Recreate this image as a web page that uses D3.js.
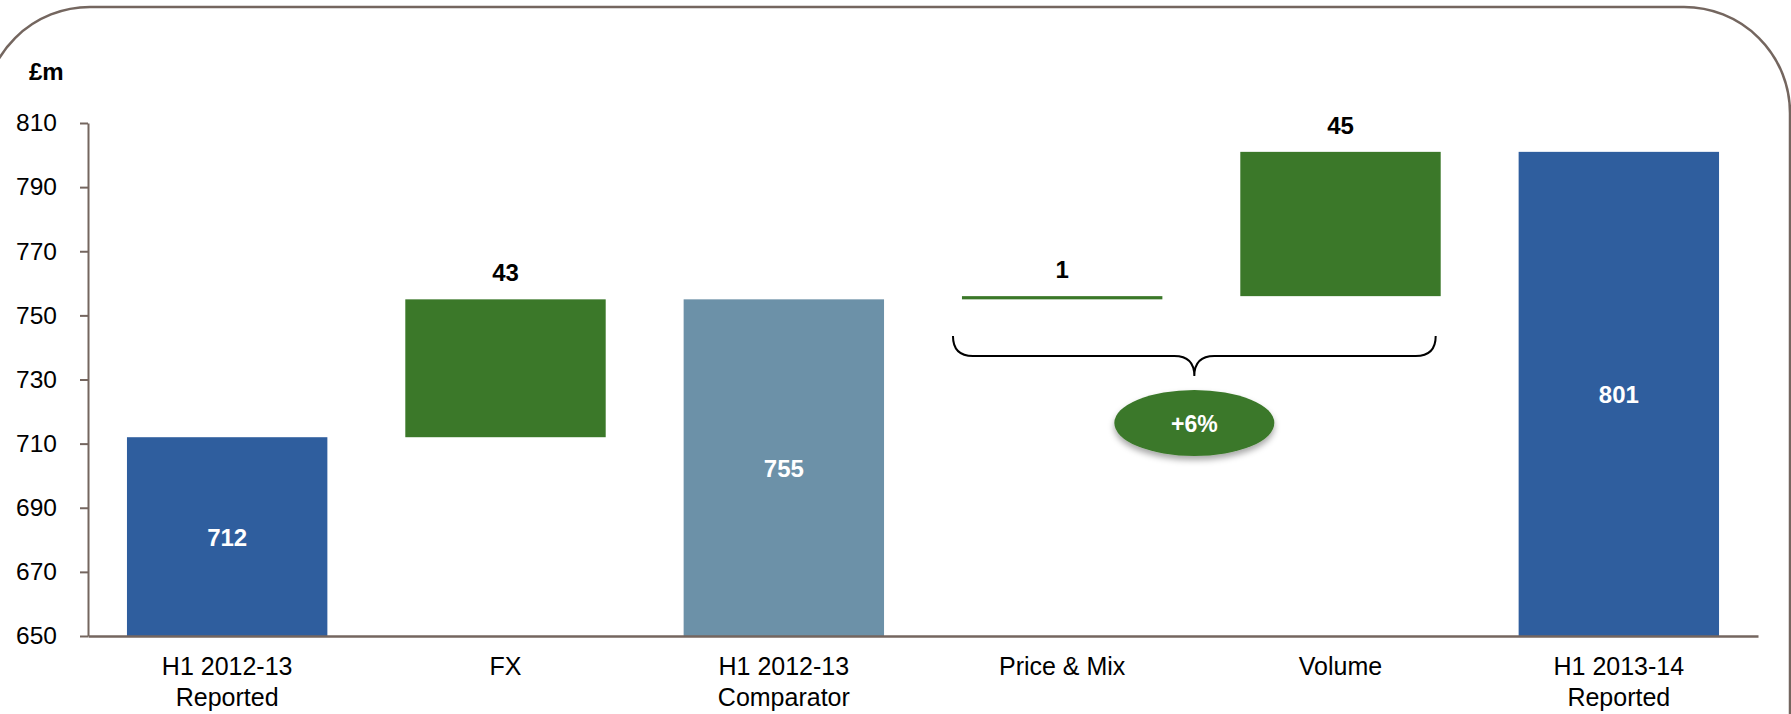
<!DOCTYPE html>
<html>
<head>
<meta charset="utf-8">
<script src="https://cdn.jsdelivr.net/npm/d3@7"></script>
<style>
  html, body { margin: 0; padding: 0; background: #ffffff; }
  svg { display: block; font-family: "Liberation Sans", Arial, sans-serif; }
</style>
</head>
<body>
<svg id="chart" width="1791" height="714"></svg>
<script>
// Revenue bridge, £m
const categories = ["H1 2012-13\nReported", "FX", "H1 2012-13\nComparator", "Price & Mix", "Volume", "H1 2013-14\nReported"];
const barKinds   = ["total", "delta", "subtotal", "delta", "delta", "total"];
const values     = [712, 43, 755, 1, 45, 801];
const yTicks     = [650, 670, 690, 710, 730, 750, 770, 790, 810];
const growthLabel = "+6%";

const W = 1791, H = 714;
const margin = { left: 88, right: 33, top: 123, bottom: 78 };
const svg = d3.select("#chart");

const colors = { total: "#2f5e9e", subtotal: "#6c91a8", delta: "#3b7829" };
const frameColor = "#74665f";

// Running bases for the floating bars
let running = 0;
const bars = values.map((v, i) => {
  let lo, hi;
  if (barKinds[i] === "delta") { lo = running; hi = running + v; running = hi; }
  else { lo = 650; hi = v; running = v; }
  return { cat: categories[i], kind: barKinds[i], value: v, lo, hi };
});

const x = d3.scaleBand()
  .domain(categories)
  .range([margin.left, W - margin.right])
  .paddingInner(0.28)
  .paddingOuter(0.14);

const y = d3.scaleLinear()
  .domain([650, 810])
  .range([H - margin.bottom, margin.top]);

// Rounded panel frame
const frameDefs = svg.append("defs");
const shadow = frameDefs.append("filter").attr("id", "ovalShadow")
  .attr("x", "-30%").attr("y", "-30%").attr("width", "160%").attr("height", "180%");
shadow.append("feDropShadow").attr("dx", 0).attr("dy", 4).attr("stdDeviation", 3)
  .attr("flood-color", "#000").attr("flood-opacity", 0.35);

svg.append("rect")
  .attr("x", -16).attr("y", 7)
  .attr("width", 1806).attr("height", 820)
  .attr("rx", 106).attr("ry", 106)
  .attr("fill", "none")
  .attr("stroke", frameColor)
  .attr("stroke-width", 2.5);

// Bars
svg.append("g").selectAll("rect")
  .data(bars)
  .join("rect")
  .attr("x", d => x(d.cat))
  .attr("width", x.bandwidth())
  .attr("y", d => y(d.hi))
  .attr("height", d => Math.max(0, y(d.lo) - y(d.hi)))
  .attr("fill", d => colors[d.kind]);

// Y axis
const yAxis = svg.append("g")
  .attr("transform", `translate(${margin.left},0)`)
  .call(d3.axisLeft(y).tickValues(yTicks).tickSize(8).tickPadding(23).tickSizeOuter(0));
yAxis.selectAll("path, line").attr("stroke", frameColor).attr("stroke-width", 2);
yAxis.selectAll("text").attr("font-size", 24.5).attr("fill", "#000")
  .attr("font-family", "'Liberation Sans', Arial, sans-serif");

// X axis baseline
const xAxis = svg.append("g")
  .attr("transform", `translate(0,${y(650)})`)
  .call(d3.axisBottom(x).tickSize(0).tickSizeOuter(0).tickFormat(""));
xAxis.select("path").attr("stroke", frameColor).attr("stroke-width", 2.5);

// Category labels (two lines where needed)
const catLabels = svg.append("g").selectAll("text")
  .data(categories)
  .join("text")
  .attr("x", d => x(d) + x.bandwidth() / 2)
  .attr("y", 675)
  .attr("text-anchor", "middle")
  .attr("font-size", 25)
  .attr("fill", "#000");
catLabels.each(function (d) {
  const lines = d.split("\n");
  d3.select(this).selectAll("tspan")
    .data(lines)
    .join("tspan")
    .attr("x", x(d) + x.bandwidth() / 2)
    .attr("dy", (l, i) => i === 0 ? 0 : 31)
    .text(l => l);
});

// Unit label
svg.append("text")
  .attr("x", 29).attr("y", 80)
  .attr("font-size", 24).attr("font-weight", "bold")
  .attr("fill", "#000")
  .text("£m");

// Value labels: inside totals, above deltas
svg.append("g").selectAll("text")
  .data(bars)
  .join("text")
  .attr("x", d => x(d.cat) + x.bandwidth() / 2)
  .attr("y", d => d.kind === "delta" ? y(d.hi) - 18 : (y(d.hi) + y(d.lo)) / 2 + 9)
  .attr("text-anchor", "middle")
  .attr("font-size", 24)
  .attr("font-weight", "bold")
  .attr("fill", d => d.kind === "delta" ? "#000" : "#fff")
  .text(d => d.value);

// Brace spanning Price & Mix and Volume
const bx0 = x(categories[3]) - 9;
const bx1 = x(categories[4]) + x.bandwidth() - 5;
const bTop = 336, bMid = 356, bTip = 376;
const bc = (bx0 + bx1) / 2;
const r = 20;
const brace = d3.path();
brace.moveTo(bx0, bTop);
brace.quadraticCurveTo(bx0, bMid, bx0 + r, bMid);
brace.lineTo(bc - r, bMid);
brace.quadraticCurveTo(bc, bMid, bc, bTip);
brace.quadraticCurveTo(bc, bMid, bc + r, bMid);
brace.lineTo(bx1 - r, bMid);
brace.quadraticCurveTo(bx1, bMid, bx1, bTop);
svg.append("path")
  .attr("d", brace.toString())
  .attr("fill", "none")
  .attr("stroke", "#000")
  .attr("stroke-width", 2);

// Growth oval
svg.append("ellipse")
  .attr("cx", bc).attr("cy", 423)
  .attr("rx", 80).attr("ry", 33)
  .attr("fill", "#3b7829")
  .attr("filter", "url(#ovalShadow)");
svg.append("text")
  .attr("x", bc).attr("y", 432)
  .attr("text-anchor", "middle")
  .attr("font-size", 23).attr("font-weight", "bold")
  .attr("fill", "#fff")
  .text(growthLabel);
</script>
</body>
</html>
